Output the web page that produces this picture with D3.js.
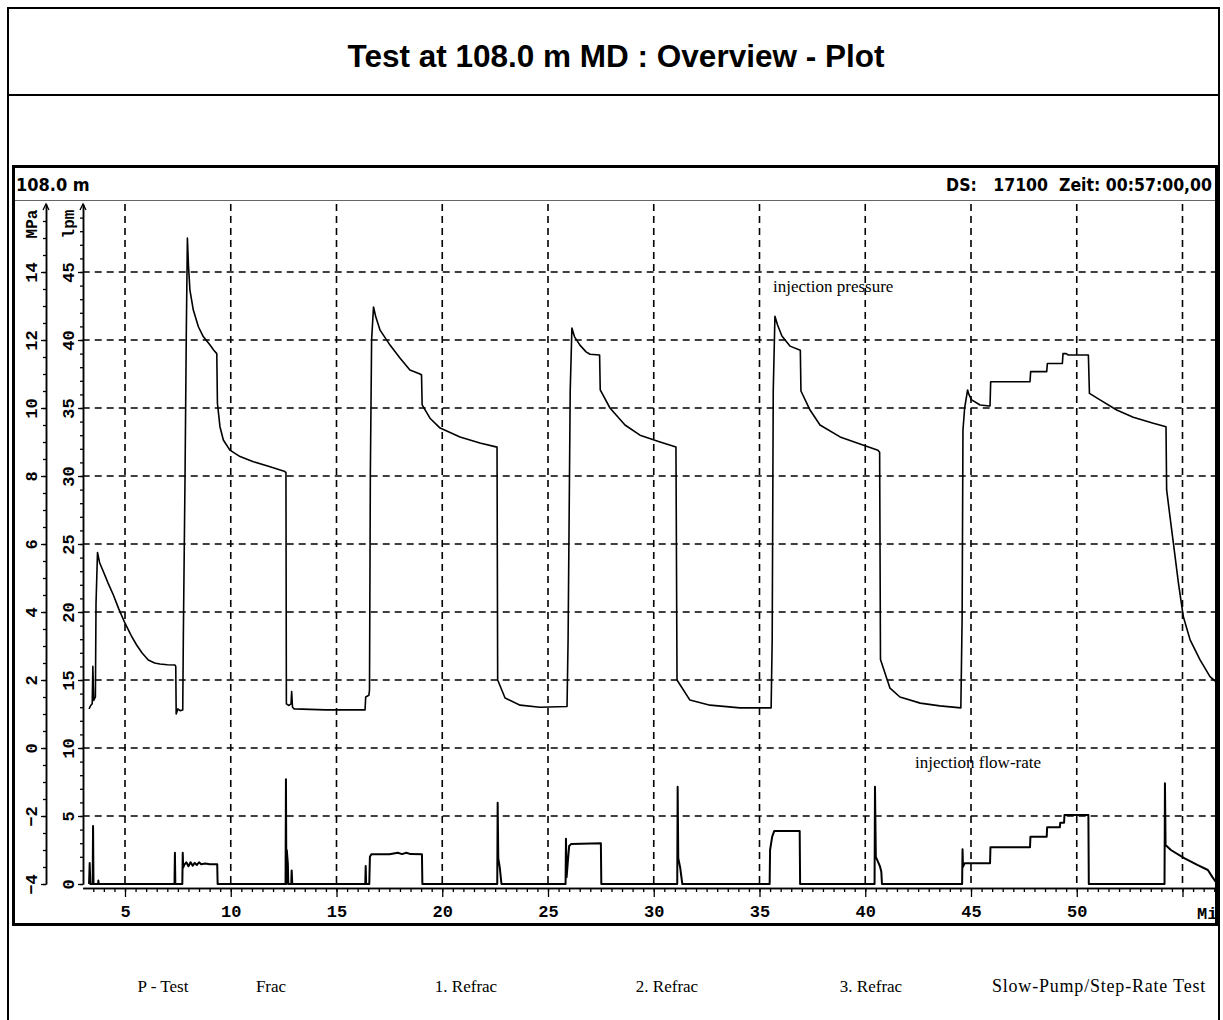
<!DOCTYPE html>
<html>
<head>
<meta charset="utf-8">
<script src="https://cdn.jsdelivr.net/npm/d3@7"></script>
<style>
  html, body { margin: 0; padding: 0; background: #fff; }
  svg { display: block; }
</style>
</head>
<body>
<svg id="chart" width="1223" height="1020"></svg>
<script>
// ---- data -------------------------------------------------------------
// injection pressure [MPa] vs. time [min]
const pressTime = [3.30,3.38,3.45,3.48,3.52,3.60,3.63,3.70,3.80,3.97,4.20,4.45,4.70,5.00,5.30,5.55,5.80,6.10,6.40,6.65,7.00,7.36,7.40,7.42,7.50,7.60,7.73,7.76,7.84,7.90,7.95,8.00,8.07,8.23,8.47,8.70,9.02,9.20,9.34,9.37,9.49,9.65,9.96,10.44,11.07,11.86,12.56,12.61,12.63,12.75,12.85,12.88,12.92,13.00,14.50,16.35,16.38,16.53,16.56,16.60,16.66,16.75,16.85,17.06,17.53,18.00,18.47,18.95,19.02,19.05,19.42,19.90,20.84,21.78,22.59,22.62,22.97,23.68,24.62,25.90,25.95,26.05,26.13,26.25,26.51,26.80,26.99,27.44,27.47,27.93,28.64,29.35,30.30,31.05,31.10,31.71,32.66,34.08,35.55,35.60,35.65,35.73,35.85,36.06,36.44,36.93,36.96,37.39,37.86,38.81,39.75,40.60,40.68,40.72,41.17,41.64,42.60,43.53,44.52,44.55,44.58,44.62,44.70,44.84,44.90,45.03,45.43,45.87,45.90,45.93,47.79,47.82,48.58,48.61,49.32,49.35,49.50,49.60,50.55,50.60,51.10,51.89,52.67,53.62,54.22,54.25,54.41,54.57,54.81,55.04,55.36,55.83,56.30,56.68];
const pressMPa  = [1.15,1.25,1.30,2.40,1.40,1.50,4.26,5.75,5.45,5.20,4.85,4.50,4.10,3.67,3.30,3.03,2.80,2.59,2.50,2.47,2.45,2.44,2.40,1.00,1.15,1.10,1.12,3.38,8.08,12.30,15.00,14.20,13.47,12.88,12.39,12.10,11.85,11.70,11.60,10.14,9.45,9.06,8.76,8.57,8.42,8.27,8.13,8.10,1.30,1.25,1.30,1.66,1.20,1.15,1.12,1.12,1.50,1.55,1.70,8.00,12.00,12.97,12.70,12.29,11.85,11.47,11.12,11.00,10.97,10.09,9.70,9.41,9.15,8.97,8.85,2.00,1.47,1.26,1.20,1.22,3.20,10.50,12.35,12.10,11.85,11.65,11.58,11.56,10.53,10.00,9.50,9.20,9.00,8.85,2.00,1.41,1.26,1.18,1.18,3.20,10.50,12.70,12.45,12.12,11.82,11.70,10.50,9.94,9.50,9.15,8.94,8.76,8.70,2.60,1.76,1.50,1.32,1.24,1.18,2.50,3.80,9.35,10.00,10.53,10.40,10.24,10.09,10.06,10.06,10.77,10.77,11.07,11.07,11.31,11.31,11.60,11.60,11.56,11.56,10.43,10.24,9.94,9.73,9.55,9.45,7.59,6.80,6.02,4.84,3.86,3.18,2.59,2.10,1.90];

// injection flow-rate [lpm] vs. time [min]
const flowTime = [3.30,3.33,3.36,3.47,3.49,3.51,3.73,3.74,3.76,7.34,7.36,7.38,7.71,7.73,7.75,7.80,7.90,8.00,8.10,8.20,8.30,8.40,8.50,8.60,8.80,9.00,9.36,9.38,12.59,12.61,12.63,12.65,12.70,12.72,12.86,12.88,12.91,16.36,16.38,16.40,16.55,16.58,16.65,17.50,17.90,18.10,18.30,18.50,19.04,19.06,22.60,22.62,22.65,22.72,22.80,25.83,25.85,25.88,25.93,26.00,26.10,27.50,27.52,31.11,31.13,31.16,31.25,31.35,35.48,35.50,35.60,35.70,36.90,36.92,40.44,40.46,40.50,40.60,40.70,40.76,40.79,44.58,44.60,44.62,44.70,45.90,45.92,47.79,47.81,48.58,48.60,49.20,49.22,49.40,49.42,50.55,50.57,54.15,54.17,54.20,54.45,55.10,55.70,56.20,56.40,56.65,57.00];
const flowLpm  = [0,1.54,0,0,4.26,0,0,0.25,0,0,2.30,0,0,2.30,1.20,1.40,1.60,1.30,1.60,1.35,1.55,1.40,1.60,1.45,1.50,1.45,1.45,0,0,7.70,0,2.50,1.50,0,0,1.00,0,0,1.32,0,0,2.00,2.18,2.18,2.30,2.20,2.30,2.20,2.18,0,0,5.98,1.90,1.20,0,0,3.33,0.50,1.50,2.79,2.95,2.99,0,0,7.15,1.90,1.20,0,0,2.50,3.48,3.90,3.90,0,0,7.15,2.00,1.64,1.27,0.90,0,0,2.55,1.27,1.52,1.52,2.70,2.70,3.48,3.48,4.17,4.17,4.50,4.50,5.07,5.07,0,0,7.40,2.87,2.50,1.89,1.40,1.03,0.54,0,0];

// axis ticks
const timeTicks  = [5, 10, 15, 20, 25, 30, 35, 40, 45, 50];
const timeGrid   = [5, 10, 15, 20, 25, 30, 35, 40, 45, 50, 55];
const mpaTicks   = [14, 12, 10, 8, 6, 4, 2, 0, -2, -4];
const lpmTicks   = [45, 40, 35, 30, 25, 20, 15, 10, 5, 0];
const lpmGrid    = [45, 40, 35, 30, 25, 20, 15, 10, 5];

// phase captions under the plot window
const phaseNames = ["P - Test", "Frac", "1. Refrac", "2. Refrac", "3. Refrac", "Slow-Pump/Step-Rate Test"];
const phaseX     = [163, 271, 466, 667, 871, 1099];

// ---- drawing ----------------------------------------------------------
const svg = d3.select("#chart");
const W = 1223, H = 1020;

svg.append("rect").attr("width", W).attr("height", H).attr("fill", "#fff");

// scales
const x  = d3.scaleLinear().domain([3, 57]).range([82.7, 1224.8]);
const yP = d3.scaleLinear().domain([-4, 16]).range([884, 204]);
const yQ = d3.scaleLinear().domain([0, 50]).range([884, 204]);

// outer report frame + title row
svg.append("rect").attr("x", 8).attr("y", 8).attr("width", 1211).attr("height", 1030)
  .attr("fill", "none").attr("stroke", "#000").attr("stroke-width", 2);
svg.append("line").attr("x1", 8).attr("x2", 1219).attr("y1", 95).attr("y2", 95)
  .attr("stroke", "#000").attr("stroke-width", 2);
svg.append("text").attr("x", 616).attr("y", 67).attr("text-anchor", "middle")
  .attr("font-family", "Liberation Sans, Arial, sans-serif").attr("font-weight", "bold")
  .attr("font-size", 31.5).text("Test at 108.0 m MD : Overview - Plot");

// plot window
const clip = svg.append("defs").append("clipPath").attr("id", "plotClip");
clip.append("rect").attr("x", 14).attr("y", 168).attr("width", 1201).attr("height", 756);

const win = svg.append("g").attr("clip-path", "url(#plotClip)");

// header strip
const hdrFont = "DejaVu Sans Condensed, DejaVu Sans, sans-serif";
win.append("text").attr("x", 16).attr("y", 191)
  .attr("font-family", hdrFont).attr("font-stretch", "condensed").attr("font-weight", "bold")
  .attr("font-size", 18).text("108.0 m");
win.append("text").attr("x", 1212).attr("y", 191).attr("text-anchor", "end")
  .attr("font-family", hdrFont).attr("font-stretch", "condensed").attr("font-weight", "bold")
  .attr("font-size", 17.5).attr("xml:space", "preserve").text("DS:   17100  Zeit: 00:57:00,00");
win.append("line").attr("x1", 14).attr("x2", 1216).attr("y1", 200.5).attr("y2", 200.5)
  .attr("stroke", "#666").attr("stroke-width", 1);

// dashed grid
const gridG = win.append("g").attr("stroke", "#000").attr("stroke-width", 1.6)
  .attr("stroke-dasharray", "7,5").attr("fill", "none");
gridG.selectAll("line.v").data(timeGrid).join("line").attr("class", "v")
  .attr("x1", d => x(d)).attr("x2", d => x(d))
  .attr("y1", yP(16)).attr("y2", yP(-4));
gridG.selectAll("line.h").data(lpmGrid).join("line").attr("class", "h")
  .attr("x1", x(3)).attr("x2", x(57))
  .attr("y1", d => yQ(d)).attr("y2", d => yQ(d));

// axes styling helper
const monoFont = "Liberation Mono, Courier New, monospace";
function styleAxis(g) {
  g.select(".domain").attr("stroke", "#000").attr("stroke-width", 1.5);
  g.selectAll(".tick line").attr("stroke", "#000").attr("stroke-width", 1.3);
  g.selectAll(".tick text").attr("fill", "#000").attr("font-family", monoFont)
    .attr("font-weight", "bold").attr("font-size", 17);
}

// pressure axis (MPa)
const axP = win.append("g").attr("transform", "translate(46,0)");
axP.append("g").call(d3.axisLeft(yP).tickValues(d3.range(-4, 16, 0.5)).tickSize(3).tickSizeOuter(0).tickFormat(""))
  .call(styleAxis);
axP.append("g").call(d3.axisLeft(yP).tickValues(mpaTicks).tickSize(5).tickSizeOuter(0).tickFormat(d3.format("d")))
  .call(styleAxis)
  .call(g => g.selectAll(".tick text").attr("x", null).attr("dy", null)
    .attr("text-anchor", "middle").attr("transform", "translate(-9,0) rotate(-90)"));

// flow axis (lpm)
const axQ = win.append("g").attr("transform", "translate(83,0)");
axQ.append("g").call(d3.axisLeft(yQ).tickValues(d3.range(0, 50, 1)).tickSize(3).tickSizeOuter(0).tickFormat(""))
  .call(styleAxis);
axQ.append("g").call(d3.axisLeft(yQ).tickValues(lpmTicks).tickSize(5).tickSizeOuter(0).tickFormat(d3.format("d")))
  .call(styleAxis)
  .call(g => g.selectAll(".tick text").attr("x", null).attr("dy", null)
    .attr("text-anchor", "middle").attr("transform", "translate(-9,0) rotate(-90)"));

// arrow heads and unit labels on the two value axes
[46, 83].forEach(ax => {
  win.append("path").attr("d", `M${ax - 3},${yP(16) + 6} L${ax},${yP(16)} L${ax + 3},${yP(16) + 6}`)
    .attr("fill", "none").attr("stroke", "#000").attr("stroke-width", 1.3);
});
win.append("text").attr("text-anchor", "middle").attr("transform", "translate(37,224) rotate(-90)")
  .attr("font-family", monoFont).attr("font-weight", "bold").attr("font-size", 16).text("MPa");
win.append("text").attr("text-anchor", "middle").attr("transform", "translate(74,224) rotate(-90)")
  .attr("font-family", monoFont).attr("font-weight", "bold").attr("font-size", 16).text("lpm");

// time axis
const axT = win.append("g").attr("transform", "translate(0,888)");
axT.append("g").call(d3.axisBottom(x).tickValues(d3.range(3.5, 57, 0.5)).tickSize(4).tickSizeOuter(0).tickFormat(""))
  .call(styleAxis);
axT.append("g").call(d3.axisBottom(x).tickValues(timeGrid).tickSize(9).tickSizeOuter(0)
    .tickFormat(d => timeTicks.includes(d) ? d : ""))
  .call(styleAxis)
  .call(g => g.selectAll(".tick text").attr("y", 17));
win.append("text").attr("x", 1197).attr("y", 919)
  .attr("font-family", monoFont).attr("font-weight", "bold").attr("font-size", 17).text("Min");

// curves
const pressData = pressTime.map((t, i) => ({ t, v: pressMPa[i] }));
const flowData  = flowTime.map((t, i) => ({ t, v: flowLpm[i] }));

win.append("path").datum(pressData)
  .attr("d", d3.line().x(d => x(d.t)).y(d => yP(d.v)))
  .attr("fill", "none").attr("stroke", "#000").attr("stroke-width", 1.6).attr("stroke-linejoin", "round");
win.append("path").datum(flowData)
  .attr("d", d3.line().x(d => x(d.t)).y(d => yQ(d.v)))
  .attr("fill", "none").attr("stroke", "#000").attr("stroke-width", 2).attr("stroke-linejoin", "round");

// curve captions
const serif = "Liberation Serif, Times New Roman, serif";
win.append("text").attr("x", 773).attr("y", 292).attr("font-family", serif).attr("font-size", 17)
  .text("injection pressure");
win.append("text").attr("x", 915).attr("y", 768).attr("font-family", serif).attr("font-size", 17)
  .text("injection flow-rate");

// plot window border
svg.append("rect").attr("x", 13.5).attr("y", 166.5).attr("width", 1203).attr("height", 758)
  .attr("fill", "none").attr("stroke", "#000").attr("stroke-width", 3);

// phase captions
svg.selectAll("text.phase").data(phaseNames).join("text").attr("class", "phase")
  .attr("x", (d, i) => phaseX[i]).attr("y", 992).attr("text-anchor", "middle")
  .attr("font-family", serif)
  .attr("font-size", (d, i) => i === phaseNames.length - 1 ? 18 : 17)
  .attr("letter-spacing", (d, i) => i === phaseNames.length - 1 ? 0.8 : 0)
  .text(d => d);
</script>
</body>
</html>
